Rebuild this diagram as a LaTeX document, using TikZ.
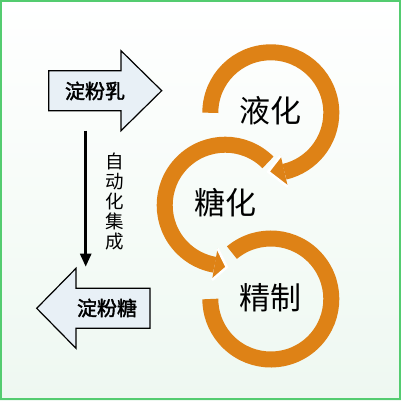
\documentclass[tikz,border=0pt]{standalone}
\usepackage{fontspec}
\newfontfamily\cjk[AutoFakeBold=2]{Noto Sans CJK SC}
\usetikzlibrary{arrows.meta}
\definecolor{ringorange}{RGB}{222,130,22}
\definecolor{boxfill}{RGB}{232,240,246}
\definecolor{framegreen}{RGB}{84,204,112}
\definecolor{bggreen}{RGB}{238,248,241}
\tikzset{
  ring/.style={draw=ringorange, line width=16pt, line cap=butt},
  ringhead/.style={fill=ringorange},
  headedge/.style={draw=white, line width=2.5pt, line join=miter},
  blockarrow/.style={draw=black, line width=1.2pt, fill=boxfill, line join=miter},
  bigtext/.style={font=\cjk\fontsize{31}{31}\selectfont, inner sep=0pt},
  boxtext/.style={font=\cjk\bfseries\fontsize{20}{20}\selectfont, inner sep=0pt},
  sidetext/.style={font=\cjk\fontsize{18.5}{20}\selectfont, align=center, inner sep=0pt}
}
\begin{document}
\begin{tikzpicture}[x=1pt,y=1pt]
\useasboundingbox (0,0) rectangle (401,400);
\shade[top color=white, bottom color=bggreen] (0,0) rectangle (401,400);
\draw[framegreen, line width=2pt] (1,1) rectangle (400,399);

% block arrows
\draw[blockarrow] (48.7,289.3) -- (121,289.3) -- (121,269.3) -- (161.7,309.3)
  -- (121,349.3) -- (121,329.3) -- (48.7,329.3) -- cycle;
\node[boxtext] (milk) at (95,309) {淀粉乳};
\draw[blockarrow] (150,71.7) -- (76,71.7) -- (76,51.7) -- (36.7,91.7)
  -- (76,131.7) -- (76,111.7) -- (150,111.7) -- cycle;
\node[boxtext] (sugar) at (107,92) {淀粉糖};

% vertical arrow
\coordinate (vtop) at (85.7,269.3);
\coordinate (vbot) at (85.7,133.3);
\draw[line width=2.6pt, -{Triangle[length=13pt,width=11pt]}] (vtop) -- (vbot);
\node[sidetext] (auto) at (115,198) {自\\动\\化\\集\\成};

% rings
\coordinate (c1) at (270.8,287.2);
\coordinate (c2) at (225.2,194.8);
\coordinate (c3) at (270.8,101);

\draw[ring] ([shift={(180:60.5)}]c1) arc[start angle=180, end angle=-77, radius=60.5];
\draw[ring] ([shift={(45:60.5)}]c2) arc[start angle=45, end angle=260, radius=60.5];
\draw[ring] ([shift={(130:60.5)}]c3) arc[start angle=130, end angle=-180, radius=60.5];

\coordinate (h1a) at ([shift={(-77:44)}]c1);
\coordinate (h1b) at ([shift={(-77:76)}]c1);
\coordinate (h1t) at ([shift={(-92.5:59)}]c1);
\fill[ringhead] (h1a) -- (h1b) -- (h1t) -- cycle;
\draw[headedge] (h1a) -- (h1t) -- (h1b);

\coordinate (h2a) at ([shift={(260:44)}]c2);
\coordinate (h2b) at ([shift={(260:76)}]c2);
\coordinate (h2t) at ([shift={(271.5:62)}]c2);
\fill[ringhead] (h2a) -- (h2b) -- (h2t) -- cycle;
\draw[headedge] (h2a) -- (h2t) -- (h2b);

\node[bigtext] (liq) at (270,289) {液化};
\node[bigtext] (sac) at (225,197) {糖化};
\node[bigtext] (ref) at (270,102) {精制};
\end{tikzpicture}
\end{document}
